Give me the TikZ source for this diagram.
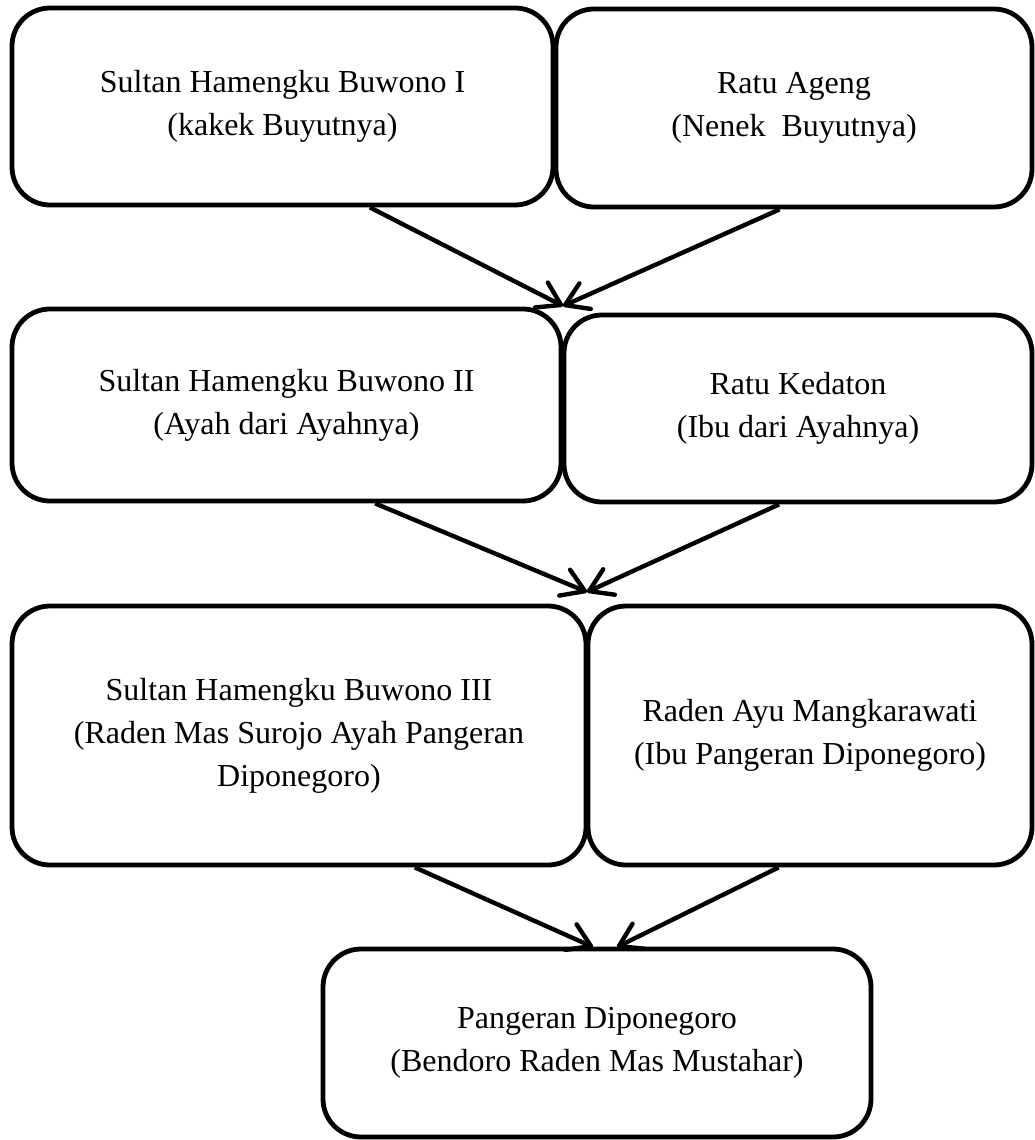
\documentclass[tikz,border=0pt]{standalone}
\usepackage{fontspec}
\setmainfont{Liberation Serif}
\usetikzlibrary{arrows.meta,calc}

\tikzset{
  kotak/.style={draw,line width=2.4pt,rounded corners=19pt,align=center,inner sep=0pt,
    font=\fontsize{16}{21.5}\selectfont},
  panah/.style={line width=2.2pt,-{Straight Barb[length=11pt,width=14pt,round]}}
}

\begin{document}
\begin{tikzpicture}[x=0.5pt,y=-0.5pt]
\useasboundingbox (0,0) rectangle (1034,1140);

% generasi pertama
\node[kotak,minimum width=270.5pt,minimum height=98.5pt] (hb1) at (282.5,106.5) {Sultan Hamengku Buwono I\\(kakek Buyutnya)};
\node[kotak,minimum width=238pt,minimum height=99pt] (ageng) at (794,108) {Ratu Ageng\\(Nenek\ \ Buyutnya)};

% generasi kedua
\node[kotak,minimum width=274.5pt,minimum height=96pt] (hb2) at (286.5,405) {Sultan Hamengku Buwono II\\(Ayah dari Ayahnya)};
\node[kotak,minimum width=234pt,minimum height=93.5pt] (kedaton) at (798,408.5) {Ratu Kedaton\\(Ibu dari Ayahnya)};

% generasi ketiga
\node[kotak,minimum width=287pt,minimum height=129.5pt] (hb3) at (299,735.5) {Sultan Hamengku Buwono III\\(Raden Mas Surojo Ayah Pangeran\\Diponegoro)};
\node[kotak,minimum width=222pt,minimum height=129.5pt] (ayu) at (810,735.5) {Raden Ayu Mangkarawati\\(Ibu Pangeran Diponegoro)};

\node[kotak,minimum width=274pt,minimum height=94pt] (dipo) at (597,1043) {Pangeran Diponegoro\\(Bendoro Raden Mas Mustahar)};

\coordinate (m1) at (563,306);
\coordinate (m2) at (587,592);
\coordinate (m3a) at (593,947);
\coordinate (m3b) at (617,947);

\draw[panah] ($(hb1.south west)!.66!(hb1.south east)$) -- (m1);
\draw[panah] ($(ageng.south west)!.47!(ageng.south east)$) -- (m1);
\draw[panah] ($(hb2.south west)!.66!(hb2.south east)$) -- (m2);
\draw[panah] ($(kedaton.south west)!.46!(kedaton.south east)$) -- (m2);
\draw[panah] ($(hb3.south west)!.70!(hb3.south east)$) -- (m3a);
\draw[panah] ($(ayu.south west)!.43!(ayu.south east)$) -- (m3b);
\end{tikzpicture}
\end{document}
